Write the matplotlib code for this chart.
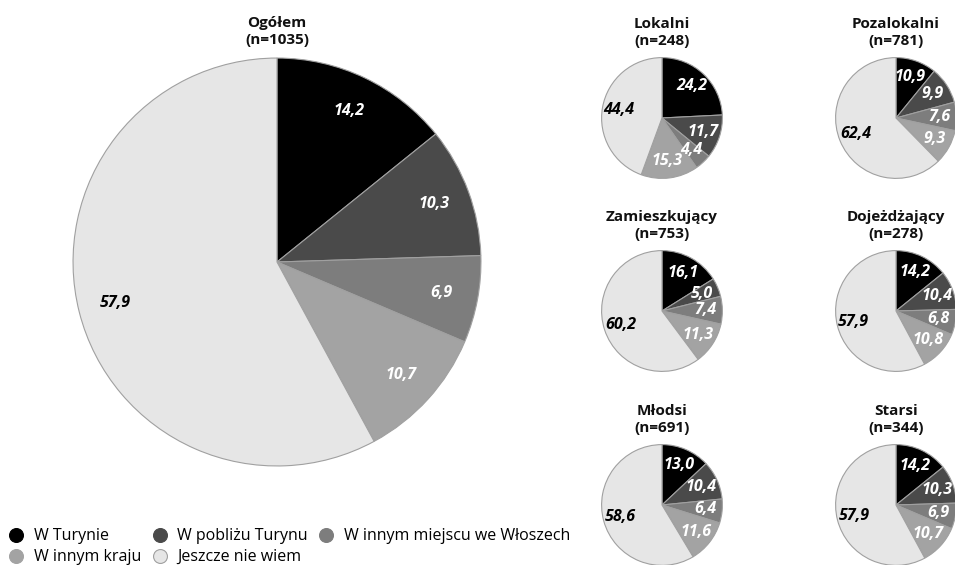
import matplotlib
matplotlib.use("Agg")
from matplotlib import pyplot as plt
from matplotlib.lines import Line2D

plt.rcParams['font.family'] = ['Open Sans', 'DejaVu Sans']

W, H = 955, 565

categories = ['W Turynie', 'W pobliżu Turynu', 'W innym miejscu we Włoszech',
              'W innym kraju', 'Jeszcze nie wiem']
colors = ['#000000', '#4a4a4a', '#7d7d7d', '#a3a3a3', '#e6e6e6']
label_colors = ['white', 'white', 'white', 'white', 'black']

groups = ['Ogółem', 'Lokalni', 'Pozalokalni', 'Zamieszkujący',
          'Dojeżdżający', 'Młodsi', 'Starsi']
group_n = [1035, 248, 781, 753, 278, 691, 344]

ogolem = [14.2, 10.3, 6.9, 10.7, 57.9]
lokalni = [24.2, 11.7, 4.4, 15.3, 44.4]
pozalokalni = [10.9, 9.9, 7.6, 9.3, 62.4]
zamieszkujacy = [16.1, 5.0, 7.4, 11.3, 60.2]
dojezdzajacy = [14.2, 10.4, 6.8, 10.8, 57.9]
mlodsi = [13.0, 10.4, 6.4, 11.6, 58.6]
starsi = [14.2, 10.3, 6.9, 10.7, 57.9]

values = [ogolem, lokalni, pozalokalni, zamieszkujacy, dojezdzajacy, mlodsi, starsi]

# pixel centre x, centre y, radius, label distance
layout = [
    (277, 262, 206, 0.82),
    (662, 118, 61, 0.72),
    (896, 118, 61, 0.72),
    (662, 311, 61, 0.72),
    (896, 311, 61, 0.72),
    (662, 505, 61, 0.72),
    (896, 505, 61, 0.72),
]

fig = plt.figure(figsize=(W / 100, H / 100), dpi=100)

for name, n, vals, (cx, cy, r, ld) in zip(groups, group_n, values, layout):
    ax = fig.add_axes([(cx - r) / W, 1 - (cy + r) / H, 2 * r / W, 2 * r / H])
    wedges, texts = ax.pie(vals, colors=colors, startangle=90, counterclock=False,
                           labels=[f'{v:.1f}'.replace('.', ',') for v in vals],
                           labeldistance=ld,
                           wedgeprops=dict(edgecolor='#a0a0a0', linewidth=0.8),
                           textprops=dict(fontsize=11.5, fontweight='bold',
                                          fontstyle='italic', ha='center', va='center'))
    for t, c in zip(texts, label_colors):
        t.set_color(c)
        t.set_horizontalalignment('center')
    ax.set_xlim(-1.01, 1.01)
    ax.set_ylim(-1.01, 1.01)
    ax.axis('off')
    fig.text(cx / W, 1 - (cy - r - 9) / H, f'{name}\n(n={n})', ha='center', va='bottom',
             fontsize=11, fontweight='bold', linespacing=1.25, color='#111111')

handles = [Line2D([], [], marker='o', linestyle='none', markersize=10,
                  markerfacecolor=c, markeredgecolor='#a0a0a0' if c == '#e6e6e6' else c,
                  markeredgewidth=0.8)
           for c in colors]
order = [0, 3, 1, 4, 2]
fig.legend([handles[i] for i in order], [categories[i] for i in order],
           ncol=3, loc='upper left', bbox_to_anchor=(6 / W, 1 - 525 / H),
           frameon=False, handlelength=0.9, handletextpad=0.65,
           columnspacing=0.7, labelspacing=0.32, borderpad=0.2, borderaxespad=0,
           prop=dict(size=11.5, weight='normal'))

fig.savefig('out.png', dpi=100)
